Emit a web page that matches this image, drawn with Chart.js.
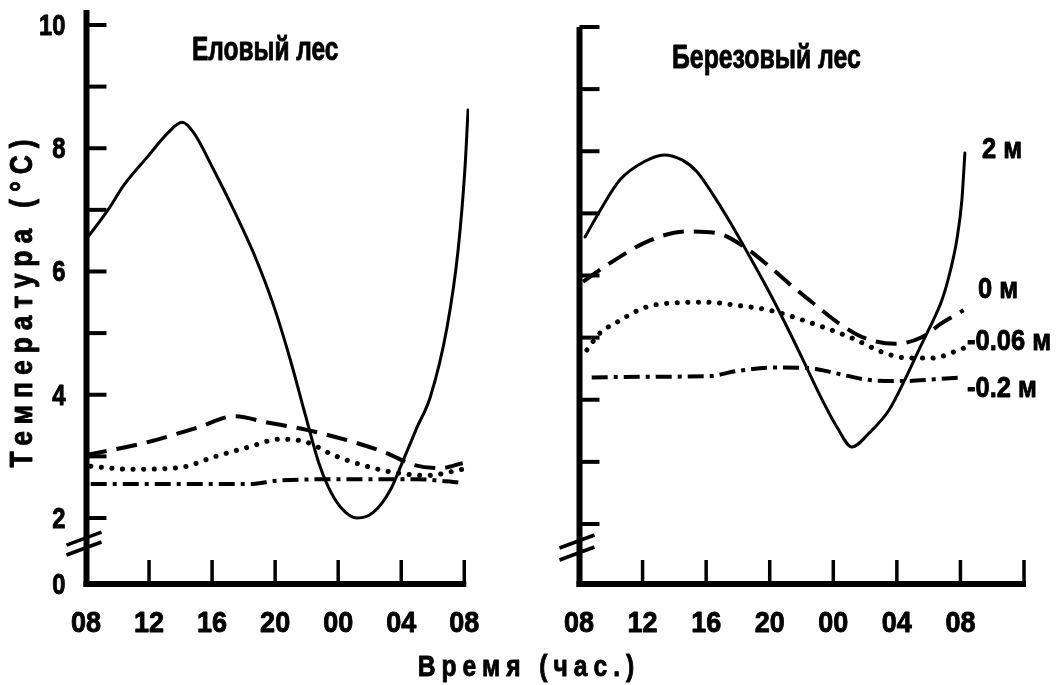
<!DOCTYPE html>
<html>
<head>
<meta charset="utf-8">
<script src="https://cdn.jsdelivr.net/npm/chart.js@4.4.1/dist/chart.umd.min.js"></script>
<style>
  html, body { margin: 0; padding: 0; background: #fff; }
  #wrap { position: relative; width: 1062px; height: 685px; }
  #wrap canvas { position: absolute; left: 0; top: 0; }
</style>
</head>
<body>
<div id="wrap">
  <canvas id="spruce" width="1062" height="685"></canvas>
  <canvas id="birch" width="1062" height="685"></canvas>
</div>
<script>
const FACE = '"Liberation Sans", Arial, Helvetica, sans-serif';

// time axis: hours counted from 08:00
const hourTicks = [0, 4, 8, 12, 16, 20, 24];
const hourLabels = ['08', '12', '16', '20', '00', '04', '08'];
const birchHourTicks = [0, 4, 8, 12, 16, 20, 24, 28];
const birchHourLabels = ['08', '12', '16', '20', '00', '04', '08', ''];

// temperature axis (broken below 2 °C, bottom labelled 0)
const tempMarks = [2, 3, 4, 5, 6, 7, 8, 9, 10];
const tempLabels = ['0', '2', '', '4', '', '6', '', '8', '', '10'];

// Еловый лес
const spruceHours2m = [0, 1.4, 2.4, 3.9, 5.2, 6.1, 6.84, 8.1, 9.37, 10.63, 11.9, 12.97, 13.92, 14.75, 15.38, 16.14, 17.2, 18.23, 19.3, 20.13, 21.0, 21.84, 22.91, 23.61, 24.05, 24.24];
const spruceTemp2m  = [6.52, 7.0, 7.4, 7.86, 8.25, 8.42, 8.25, 7.65, 7.0, 6.3, 5.45, 4.56, 3.67, 2.91, 2.5, 2.18, 2.0, 2.09, 2.45, 2.94, 3.47, 3.96, 5.1, 6.35, 7.7, 8.62];
const spruceHours0m = [0, 3.9, 7.1, 9.4, 11.5, 14.0, 17.0, 19.1, 20.8, 22.5, 23.9];
const spruceTemp0m  = [3.02, 3.23, 3.47, 3.65, 3.55, 3.43, 3.23, 3.05, 2.86, 2.81, 2.89];
const spruceHours006 = [0.3, 2.8, 6.0, 8.1, 10.3, 12.3, 14.0, 15.7, 17.8, 19.5, 21.6, 23.9];
const spruceTemp006  = [2.84, 2.79, 2.82, 2.99, 3.15, 3.28, 3.23, 3.02, 2.84, 2.74, 2.69, 2.79];
const spruceHours02 = [0.3, 5.0, 10.3, 12.3, 16.6, 20.8, 23.9];
const spruceTemp02  = [2.55, 2.55, 2.55, 2.61, 2.63, 2.63, 2.57];

// Березовый лес
const birchHours2m = [0.38, 1.45, 2.58, 4.09, 5.35, 6.48, 7.42, 8.36, 9.5, 10.75, 12.14, 13.4, 14.34, 15.28, 16.23, 17.17, 18.24, 19.5, 20.5, 21.38, 21.95, 22.83, 23.33, 23.77, 24.09, 24.28];
const birchTemp2m  = [6.62, 7.1, 7.54, 7.83, 7.94, 7.86, 7.67, 7.33, 6.86, 6.3, 5.65, 5.01, 4.51, 4.01, 3.56, 3.24, 3.46, 3.83, 4.32, 4.8, 5.1, 5.6, 6.04, 6.57, 7.21, 7.97];
const birchHours0m = [0.25, 1.95, 4.5, 6.8, 8.7, 10.4, 12.0, 13.5, 15.0, 16.35, 18.0, 19.9, 21.6, 22.8, 24.2];
const birchTemp0m  = [5.9, 6.2, 6.57, 6.71, 6.68, 6.46, 6.14, 5.81, 5.5, 5.23, 4.99, 4.9, 5.01, 5.23, 5.44];
const birchHours006 = [0.5, 1.3, 2.4, 4.1, 6.0, 8.05, 9.9, 12.0, 14.1, 17.2, 19.25, 20.75, 22.2, 24.2];
const birchTemp006  = [4.8, 5.07, 5.25, 5.48, 5.56, 5.57, 5.52, 5.44, 5.28, 4.99, 4.75, 4.67, 4.67, 4.83];
const birchHours02 = [0.8, 4.0, 8.2, 9.9, 12.3, 14.5, 16.1, 18.2, 20.3, 22.4, 24.2];
const birchTemp02  = [4.36, 4.37, 4.38, 4.46, 4.52, 4.51, 4.43, 4.32, 4.3, 4.33, 4.36];

const depthNames = ['2 м', '0 м', '-0.06 м', '-0.2 м'];

const pairs = (xs, ys) => xs.map((x, i) => ({ x, y: ys[i] }));

// line styles per depth
const styles = [
  { borderWidth: 3, borderDash: [], borderCapStyle: 'round' },
  { borderWidth: 4, borderDash: [21, 10], borderCapStyle: 'butt' },
  { borderWidth: 5, borderDash: [0.1, 10.5], borderCapStyle: 'round' },
  { borderWidth: 4, borderDash: [16, 6, 4, 6], borderCapStyle: 'butt' }
];

function makeDatasets(series) {
  return series.map((s, i) => Object.assign({
    label: depthNames[i],
    data: s,
    borderColor: '#000',
    backgroundColor: '#000',
    fill: false,
    pointRadius: 0,
    cubicInterpolationMode: 'monotone'
  }, styles[i]));
}

// condensed heavy text: the face is squeezed horizontally by sx and thickened by a thin outline
function drawText(ctx, text, x, y, t) {
  ctx.save();
  ctx.fillStyle = '#000';
  ctx.strokeStyle = '#000';
  ctx.font = 'bold ' + t.size + 'px ' + FACE;
  const sx = t.sx || 1;
  ctx.letterSpacing = ((t.spacing || 0) / sx) + 'px';
  ctx.textAlign = t.align || 'left';
  ctx.textBaseline = 'alphabetic';
  ctx.translate(x, y);
  if (t.rotate) ctx.rotate(t.rotate);
  ctx.scale(sx, 1);
  ctx.fillText(text, 0, 0);
  ctx.lineWidth = 0.9;
  ctx.lineJoin = 'round';
  ctx.strokeText(text, 0, 0);
  ctx.restore();
}

// axes drawn as a thick frame with inward tick marks, a break sign and tick labels
const framePlugin = {
  id: 'frame',
  afterDatasetsDraw(chart, args, o) {
    const { ctx, chartArea: a, scales: { x, y } } = chart;
    const ax = a.left + 0.5;
    const ay = a.bottom;
    ctx.save();
    ctx.strokeStyle = '#000';
    ctx.lineCap = 'butt';
    ctx.lineWidth = 6;
    ctx.beginPath();
    ctx.moveTo(ax, y.getPixelForValue(o.axisTop));
    ctx.lineTo(ax, ay + 3);
    ctx.stroke();
    const xEnd = x.getPixelForValue(o.axisEnd);
    ctx.beginPath();
    ctx.moveTo(ax - 3, ay);
    ctx.lineTo(xEnd + 2, ay);
    ctx.stroke();
    ctx.lineWidth = 4;
    tempMarks.forEach(v => {
      const py = y.getPixelForValue(v);
      ctx.beginPath();
      ctx.moveTo(ax, py);
      ctx.lineTo(ax + 20, py);
      ctx.stroke();
    });
    ctx.lineWidth = 3.5;
    o.hourTicks.forEach(h => {
      if (h === 0) return;
      const px = x.getPixelForValue(h);
      ctx.beginPath();
      ctx.moveTo(px, ay);
      ctx.lineTo(px, ay - 24);
      ctx.stroke();
    });
    o.breakAt.forEach(v => {
      const py = y.getPixelForValue(v);
      ctx.beginPath();
      ctx.moveTo(ax - 20, py + 6.5);
      ctx.lineTo(ax + 15, py - 6.5);
      ctx.stroke();
    });
    ctx.restore();

    // hour labels under the axis
    o.hourTicks.forEach((h, i) => {
      drawText(ctx, o.hourLabels[i], x.getPixelForValue(h), ay + 48, { size: 30, sx: 0.9, align: 'center' });
    });
    // temperature labels left of the axis
    if (o.tempLabels) {
      const values = [y.min].concat(tempMarks);
      values.forEach((v, i) => {
        if (!tempLabels[i]) return;
        drawText(ctx, tempLabels[i], ax - 21, y.getPixelForValue(v) + 10, { size: 29, sx: 0.82, align: 'right' });
      });
    }
  }
};

// free text: panel titles, axis titles, depth labels
const notesPlugin = {
  id: 'notes',
  afterDraw(chart, args, o) {
    o.items.forEach(t => drawText(chart.ctx, t.text, t.x, t.y, t));
  }
};

function makeOptions(cfg) {
  return {
    responsive: false,
    animation: false,
    events: [],
    layout: { padding: cfg.padding },
    plugins: {
      legend: { display: false },
      tooltip: { enabled: false },
      frame: cfg.frame,
      notes: { items: cfg.notes }
    },
    scales: {
      x: {
        type: 'linear',
        min: 0,
        max: cfg.xMax,
        grid: { display: false, drawTicks: false },
        border: { display: false },
        ticks: { display: false },
        afterFit: s => { s.height = 101; s.paddingLeft = 0; s.paddingRight = 0; }
      },
      y: {
        type: 'linear',
        min: cfg.yMin,
        max: cfg.yMax,
        grid: { display: false, drawTicks: false },
        border: { display: false },
        ticks: { display: false },
        afterFit: s => { s.width = cfg.yWidth; s.paddingTop = 0; s.paddingBottom = 0; }
      }
    }
  };
}

new Chart(document.getElementById('spruce'), {
  type: 'line',
  data: {
    datasets: makeDatasets([
      pairs(spruceHours2m, spruceTemp2m),
      pairs(spruceHours0m, spruceTemp0m),
      pairs(spruceHours006, spruceTemp006),
      pairs(spruceHours02, spruceTemp02)
    ])
  },
  options: makeOptions({
    padding: { left: 0, top: 10, right: 593, bottom: 0 },
    xMax: 24.3, yMin: 0.929, yMax: 10.243, yWidth: 86,
    frame: { axisTop: 10.243, axisEnd: 24, hourTicks, hourLabels, tempLabels: true, breakAt: [1.667, 1.505] },
    notes: [
      { text: 'Еловый лес', x: 192, y: 60, size: 34, sx: 0.72 },
      { text: 'Температура (°С)', x: 32, y: 300, size: 31, sx: 0.85, spacing: 7, align: 'center', rotate: -Math.PI / 2 },
      { text: 'Время (час.)', x: 529, y: 676, size: 30, sx: 0.82, spacing: 6, align: 'center' }
    ]
  }),
  plugins: [framePlugin, notesPlugin]
});

new Chart(document.getElementById('birch'), {
  type: 'line',
  data: {
    datasets: makeDatasets([
      pairs(birchHours2m, birchTemp2m),
      pairs(birchHours0m, birchTemp0m),
      pairs(birchHours006, birchTemp006),
      pairs(birchHours02, birchTemp02)
    ])
  },
  options: makeOptions({
    padding: { left: 0, top: 27, right: 38, bottom: 0 },
    xMax: 28, yMin: 1.034, yMax: 10, yWidth: 579,
    frame: { axisTop: 10, axisEnd: 28, hourTicks: birchHourTicks, hourLabels: birchHourLabels, tempLabels: false, breakAt: [1.718, 1.525] },
    notes: [
      { text: 'Березовый лес', x: 672, y: 68, size: 34, sx: 0.73 },
      { text: depthNames[0], x: 982, y: 158, size: 30, sx: 0.85 },
      { text: depthNames[1], x: 978, y: 298, size: 30, sx: 0.85 },
      { text: depthNames[2], x: 967, y: 350, size: 30, sx: 0.85 },
      { text: depthNames[3], x: 967, y: 397, size: 30, sx: 0.85 }
    ]
  }),
  plugins: [framePlugin, notesPlugin]
});
</script>
</body>
</html>
